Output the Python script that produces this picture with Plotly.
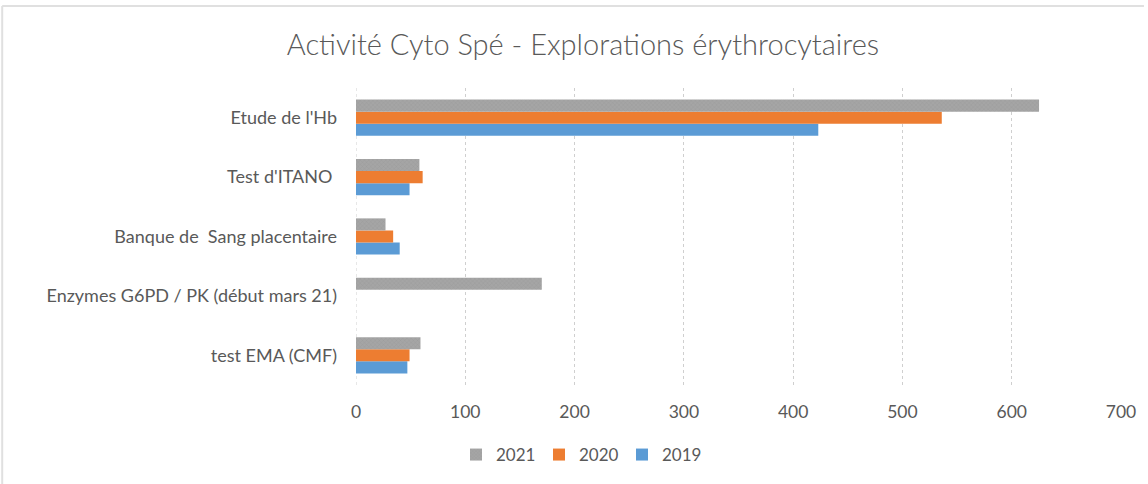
import plotly.graph_objects as go

# Categories listed top to bottom as they appear on the chart
categories = [
    "Etude de l'Hb",
    "Test d'ITANO ",
    "Banque de  Sang placentaire",
    "Enzymes G6PD / PK (début mars 21)",
    "test EMA (CMF)",
]

values_2019 = [423, 49, 40, None, 47]
values_2020 = [536, 61, 34, None, 49]
values_2021 = [625, 58, 27, 170, 59]

x_ticks = [0, 100, 200, 300, 400, 500, 600, 700]

GREY = "#a5a5a5"
ORANGE = "#ed7d31"
BLUE = "#5b9bd5"
TEXT = "#595959"
FONT = "Lato"

fig = go.Figure()

fig.add_trace(go.Bar(
    name="2019", y=categories, x=values_2019, orientation="h",
    marker=dict(color=BLUE, line=dict(width=0)),
))
fig.add_trace(go.Bar(
    name="2020", y=categories, x=values_2020, orientation="h",
    marker=dict(color=ORANGE, line=dict(width=0)),
))
fig.add_trace(go.Bar(
    name="2021", y=categories, x=values_2021, orientation="h",
    marker=dict(
        color=GREY, line=dict(width=0),
        pattern=dict(shape="x", fgcolor="#8f8f8f", size=3, solidity=0.25,
                     fillmode="overlay"),
    ),
))

# Outer frame of the chart (top and left edges)
frame = dict(type="line", xref="paper", yref="paper",
             line=dict(color="#e0e0e0", width=2), layer="below")
fig.add_shape(x0=-0.4625, x1=1.03, y0=1.2760, y1=1.2760, **frame)
fig.add_shape(x0=-0.4625, x1=-0.4625, y0=1.2760, y1=-0.34, **frame)

fig.update_layout(
    width=1148, height=484,
    margin=dict(l=356, r=20, t=88, b=99),
    paper_bgcolor="white", plot_bgcolor="white",
    barmode="group", bargap=0.39, bargroupgap=0,
    font=dict(family=FONT, color=TEXT, size=18),
    title=dict(
        text="Activité Cyto Spé - Explorations érythrocytaires",
        font=dict(family=FONT, size=29, color=TEXT, weight=300),
        x=583 / 1148, xref="container", xanchor="center",
        y=1 - 45 / 484, yref="container", yanchor="middle",
    ),
    xaxis=dict(
        range=[0, 700], tickvals=x_ticks, showgrid=True,
        gridcolor="#cfcfcf", griddash="dot", gridwidth=1,
        zeroline=False, showline=False, ticks="",
        tickfont=dict(size=17.5, color=TEXT), ticklabelstandoff=14,
    ),
    yaxis=dict(
        categoryorder="array", categoryarray=categories[::-1],
        showgrid=False, zeroline=False, showline=False, ticks="",
        tickfont=dict(size=18, color=TEXT), ticklabelstandoff=18,
    ),
    legend=dict(
        orientation="h", traceorder="reversed",
        x=456 / 1148, xref="container", xanchor="left",
        y=1 - 455 / 484, yref="container", yanchor="middle",
        font=dict(size=17, color=TEXT), itemwidth=30,
        entrywidth=38, entrywidthmode="pixels",
    ),
    showlegend=True,
)

# Dotted line along the category axis at x = 0
fig.add_shape(type="line", xref="x", yref="paper", x0=0, x1=0, y0=0, y1=1,
              line=dict(color="#cfcfcf", width=1, dash="dot"), layer="below")

fig.write_html("out.html")
